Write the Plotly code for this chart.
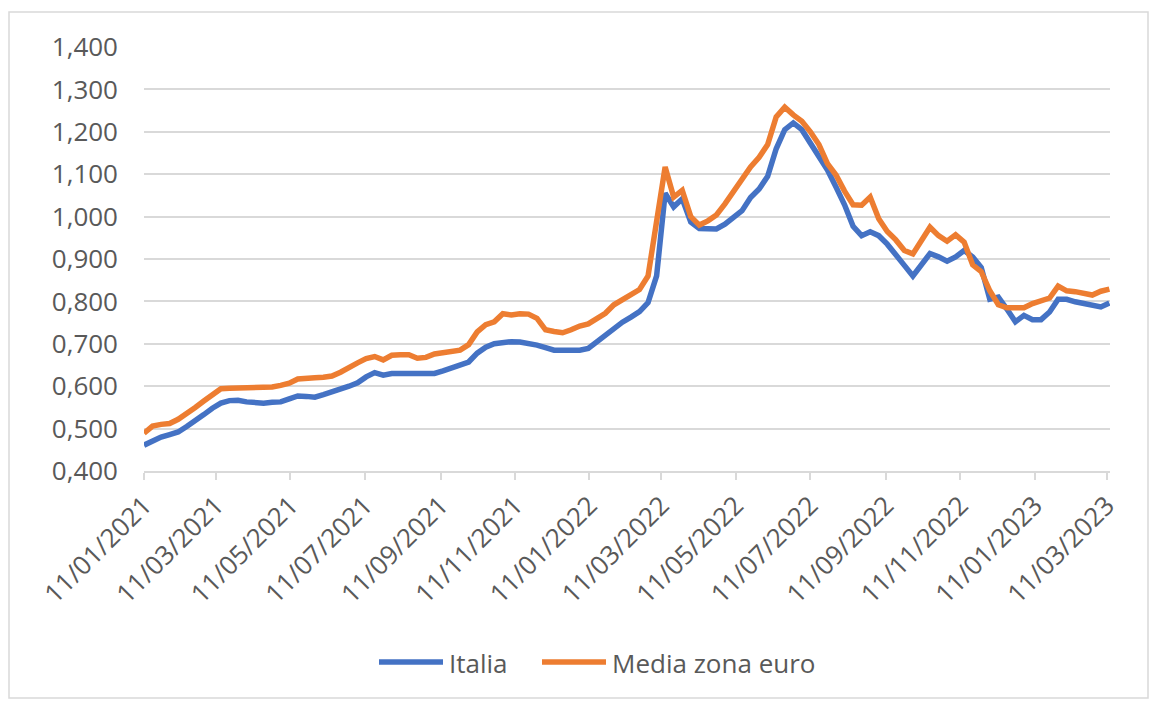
import datetime as dt
import plotly.graph_objects as go

start = dt.date(2021, 1, 11)

italia = [
    0.461, 0.472, 0.480, 0.486, 0.492, 0.505, 0.518, 0.533, 0.548, 0.560,
    0.566, 0.567, 0.563, 0.560, 0.560, 0.562, 0.563, 0.570, 0.577, 0.576,
    0.574, 0.580, 0.586, 0.591, 0.600, 0.608, 0.622, 0.632, 0.626, 0.630,
    0.630, 0.629, 0.627, 0.627, 0.630, 0.636, 0.642, 0.648, 0.657, 0.678,
    0.692, 0.700, 0.703, 0.705, 0.704, 0.701, 0.697, 0.691, 0.685, 0.685,
    0.685, 0.685, 0.689, 0.705, 0.720, 0.737, 0.751, 0.763, 0.776, 0.797,
    0.860, 1.055, 1.023, 1.042, 0.987, 0.972, 0.970, 0.971, 0.982, 0.998,
    1.014, 1.045, 1.065, 1.095, 1.160, 1.205, 1.221, 1.205, 1.175, 1.145,
    1.110, 1.070, 1.028, 0.977, 0.955, 0.964, 0.955, 0.935, 0.912, 0.885,
    0.860, 0.885, 0.913, 0.905, 0.895, 0.905, 0.920, 0.905, 0.880, 0.805,
    0.810, 0.782, 0.752, 0.767, 0.757, 0.757, 0.775, 0.805, 0.805, 0.799,
    0.795, 0.792, 0.787, 0.796,
]

media_euro = [
    0.489, 0.506, 0.510, 0.512, 0.522, 0.535, 0.550, 0.565, 0.580, 0.594,
    0.595, 0.595, 0.595, 0.595, 0.596, 0.598, 0.602, 0.607, 0.617, 0.620,
    0.620, 0.621, 0.624, 0.633, 0.645, 0.655, 0.665, 0.670, 0.662, 0.673,
    0.674, 0.674, 0.666, 0.668, 0.676, 0.680, 0.682, 0.685, 0.698, 0.728,
    0.745, 0.752, 0.771, 0.768, 0.771, 0.770, 0.760, 0.733, 0.729, 0.726,
    0.733, 0.742, 0.747, 0.758, 0.772, 0.792, 0.805, 0.817, 0.828, 0.860,
    0.990, 1.117, 1.046, 1.062, 1.000, 0.980, 0.990, 1.004, 1.030, 1.060,
    1.090, 1.117, 1.140, 1.170, 1.235, 1.258, 1.240, 1.225, 1.200, 1.170,
    1.125, 1.098, 1.060, 1.028, 1.027, 1.046, 0.995, 0.965, 0.945, 0.920,
    0.912, 0.945, 0.975, 0.955, 0.942, 0.957, 0.940, 0.886, 0.870, 0.825,
    0.792, 0.785, 0.784, 0.785, 0.795, 0.803, 0.808, 0.836, 0.825, 0.823,
    0.820, 0.815, 0.824, 0.829,
]

dates = [start + dt.timedelta(weeks=i) for i in range(len(italia))]

tick_dates = [dt.date(2021 + (m // 12), (m % 12) + 1, 11) for m in range(0, 27, 2)]
tick_labels = [d.strftime("%d/%m/%Y") for d in tick_dates]

series_names = ["Italia", "Media zona euro"]
series_colors = ["#4472C4", "#ED7D31"]

FONT = "Open Sans, Noto Sans, sans-serif"
GRAY = "#595959"
GRID = "#d9d9d9"

# plot-area geometry on screen (used only for legend/border placement)
PX_L, PX_W, PY_B, PY_H = 144, 966, 471, 424
def px(x):
    return (x - PX_L) / PX_W
def py(y):
    return (PY_B - y) / PY_H

fig = go.Figure()
for name, vals, col in zip(series_names, [italia, media_euro], series_colors):
    fig.add_trace(go.Scatter(
        x=dates, y=vals, mode="lines", name=name,
        line=dict(color=col, width=5.5, shape="linear"),
        showlegend=False,
    ))

shapes = [dict(
    type="rect", xref="paper", yref="paper",
    x0=px(9), x1=px(1148), y0=py(698), y1=py(12),
    line=dict(color=GRID, width=1.5), fillcolor="rgba(0,0,0,0)", layer="below",
)]
annotations = []
legend_starts = [379, 542]
for name, col, x0 in zip(series_names, series_colors, legend_starts):
    shapes.append(dict(
        type="line", xref="paper", yref="paper",
        x0=px(x0), x1=px(x0 + 64), y0=py(662), y1=py(662),
        line=dict(color=col, width=5.5),
    ))
    annotations.append(dict(
        xref="paper", yref="paper", x=px(x0 + 68), y=py(663),
        xanchor="left", yanchor="middle", showarrow=False,
        text=name, font=dict(family=FONT, size=26, color=GRAY),
    ))

fig.update_layout(
    width=1149, height=694,
    margin=dict(l=136, r=47, t=39, b=231),
    paper_bgcolor="white", plot_bgcolor="white",
    separators=",.",
    font=dict(family=FONT, size=25, color=GRAY),
    showlegend=False,
    xaxis=dict(
        type="date",
        range=["2021-01-11", "2023-03-13 12:00"],
        tickvals=tick_dates, ticktext=tick_labels,
        tickangle=-45,
        showgrid=False,
        showline=True, linecolor=GRID, linewidth=1.5,
        ticks="outside", ticklen=7, tickcolor=GRID, tickwidth=1.5,
        tickfont=dict(family=FONT, size=26, color=GRAY),
        zeroline=False,
    ),
    yaxis=dict(
        range=[0.4, 1.4], dtick=0.1, tick0=0.4,
        tickformat=".3f",
        showgrid=True, gridcolor=GRID, gridwidth=1.5,
        showline=False, zeroline=False, ticks="",
        ticklabelstandoff=25,
        tickfont=dict(family=FONT, size=26, color=GRAY),
    ),
    shapes=shapes,
    annotations=annotations,
)

fig.write_html("out.html")
